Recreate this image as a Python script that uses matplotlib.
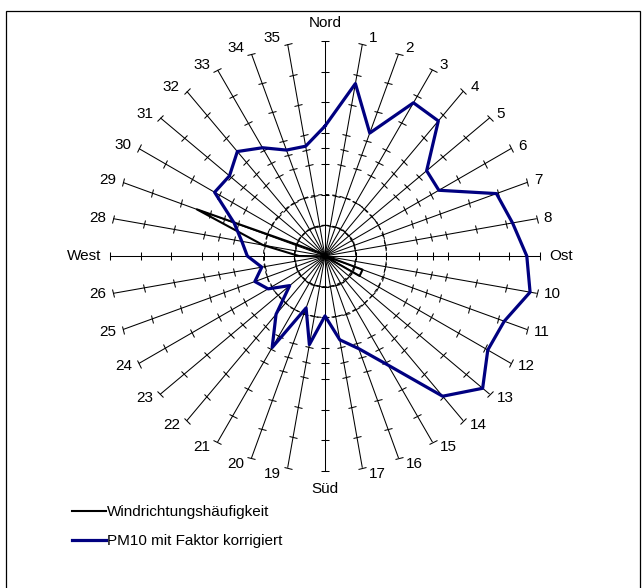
import numpy as np
import matplotlib.pyplot as plt
from matplotlib.markers import MarkerStyle
from matplotlib.transforms import Affine2D
from matplotlib.patches import Rectangle
from matplotlib.lines import Line2D

plt.rcParams['font.family'] = ['Liberation Sans', 'DejaVu Sans']

# 36 Windrichtungen im 10-Grad-Raster
directions = ['Nord', '1', '2', '3', '4', '5', '6', '7', '8',
              'Ost', '10', '11', '12', '13', '14', '15', '16', '17',
              'Süd', '19', '20', '21', '22', '23', '24', '25', '26',
              'West', '28', '29', '30', '31', '32', '33', '34', '35']

pm10 = [42.3, 57.0, 42.6, 57.6, 57.4, 43.2, 42.8, 59.4, 62.0,
        65.7, 67.8, 62.1, 61.2, 67.0, 59.6, 41.0, 32.1, 27.7,
        19.5, 29.3, 18.0, 34.4, 24.8, 15.0, 21.4, 24.3, 20.9,
        25.3, 27.5, 31.5, 41.5, 40.6, 44.4, 40.7, 36.7, 36.3]

wind = [0.5, 0.5, 0.5, 0.5, 0.5, 0.5, 0.5, 0.5, 0.5,
        0.5, 0.5, 13.0, 13.0, 0.5, 0.5, 0.5, 0.5, 0.5,
        0.5, 0.5, 0.5, 0.5, 0.5, 0.5, 0.5, 0.5, 0.5,
        8.5, 20.5, 44.4, 2.5, 0.5, 0.5, 0.5, 0.5, 0.5]

r_ticks = [10, 20, 30, 35, 40, 50, 60]
rings = [10, 20]
r_max = 70

fig = plt.figure(figsize=(6.42, 5.88), dpi=100)
fig.add_artist(Rectangle((6 / 642, -0.1), 634 / 642, 577 / 588 + 0.1,
                         transform=fig.transFigure, fill=False,
                         ec='black', lw=0.9))

ax = fig.add_axes([110 / 642, 117 / 588, 430 / 642, 430 / 588], projection='polar')
ax.set_theta_zero_location('N')
ax.set_theta_direction(-1)
ax.set_ylim(0, r_max)
ax.grid(False)
ax.set_xticks([])
ax.set_yticks([])
ax.spines['polar'].set_visible(False)
ax.patch.set_alpha(0)

theta = np.deg2rad(np.arange(len(directions)) * 10)

# Speichen mit Teilstrichen und Endkappe
for th in theta:
    ax.plot([th, th], [0, r_max], color='black', lw=0.75, zorder=1)
    mk = MarkerStyle('_', transform=Affine2D().rotate_deg(-np.rad2deg(th)))
    ax.plot([th] * (len(r_ticks) + 1), r_ticks + [r_max], ls='none', marker=mk,
            ms=6, mec='black', mew=0.75, clip_on=False, zorder=1)

ring_th = np.linspace(0, 2 * np.pi, 361)
for r in rings:
    ax.plot(ring_th, [r] * len(ring_th), color='black', lw=0.75,
            ls=(0, (4, 3)), zorder=1)

# Beschriftung der Richtungen
px = 0.72
for th, lab in zip(theta, directions):
    s, c = np.sin(th), np.cos(th)
    if abs(s) < 0.01:
        ha = 'center'
        va = 'bottom' if c > 0 else 'top'
        off = (0, 11 * px * np.sign(c))
    else:
        ha = 'left' if s > 0 else 'right'
        va = 'center'
        gap = 9 if abs(c) < 0.01 else 7
        off = (gap * px * np.sign(s), 6 * c * px)
    ax.annotate(lab, xy=(th, r_max), xytext=off, textcoords='offset points',
                ha=ha, va=va, fontsize=11, annotation_clip=False)

th_closed = np.append(theta, theta[0])
ax.plot(th_closed, wind + wind[:1], color='black', lw=1.5, zorder=3)
ax.plot(th_closed, pm10 + pm10[:1], color='#000080', lw=2.3, zorder=4)

handles = [Line2D([], [], color='black', lw=1.5),
           Line2D([], [], color='#000080', lw=2.3)]
fig.legend(handles, ['Windrichtungshäufigkeit', 'PM10 mit Faktor korrigiert'],
           loc='upper left', bbox_to_anchor=(72 / 642, 1 - 505 / 588),
           frameon=False, fontsize=11, handlelength=2.2, handletextpad=0.08,
           labelspacing=0.98, borderpad=0, borderaxespad=0)

fig.savefig('out.png', dpi=100)
plt.close()
